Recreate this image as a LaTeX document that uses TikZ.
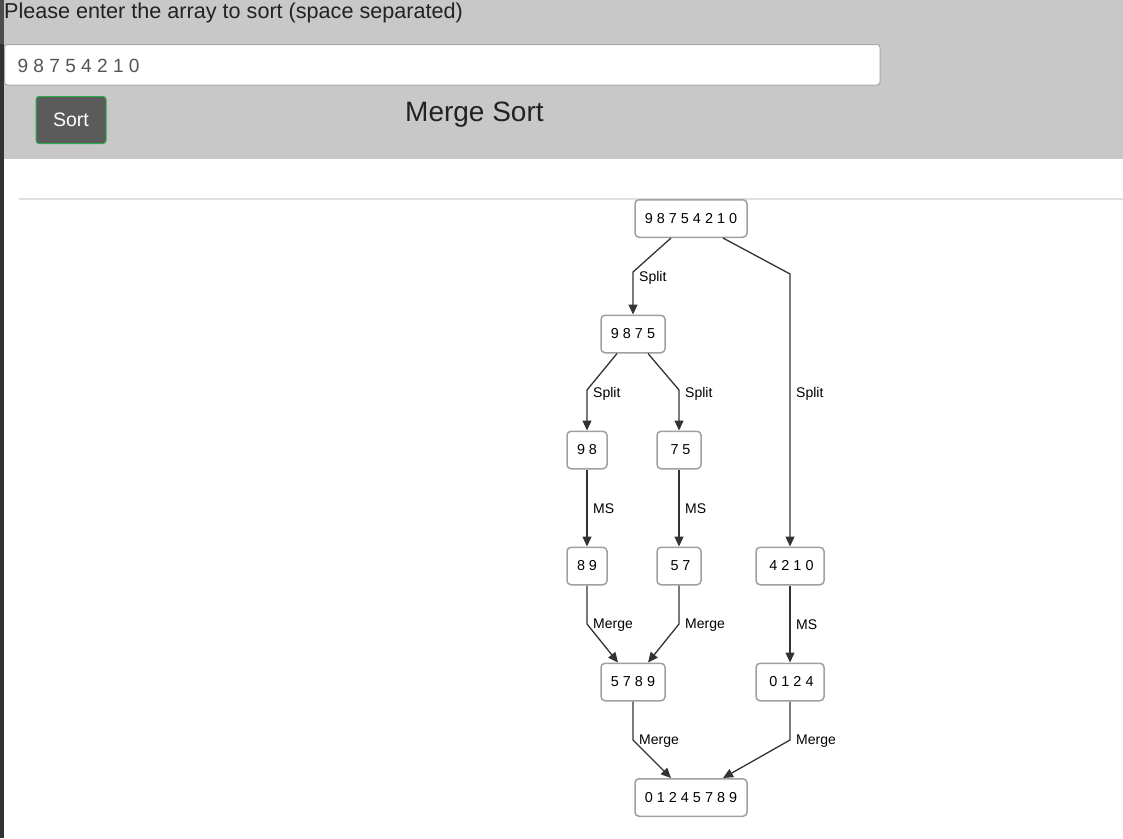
\documentclass[tikz,border=0pt]{standalone}
\usepackage{fontspec}
\setmainfont{Liberation Sans}
\usetikzlibrary{arrows.meta}
\definecolor{hdr}{HTML}{C8C8C8}
\definecolor{barA}{HTML}{4A4E53}
\definecolor{barB}{HTML}{2E3338}
\definecolor{txt}{HTML}{222222}
\definecolor{inptxt}{HTML}{555555}
\definecolor{inpborder}{HTML}{A9A9A9}
\definecolor{btnfill}{HTML}{5B5B5B}
\definecolor{btnborder}{HTML}{2EAA4F}
\definecolor{sepline}{HTML}{E0E0E0}
\definecolor{boxborder}{HTML}{A0A0A0}
\definecolor{edgec}{HTML}{333333}
\tikzset{
  box/.style={draw=boxborder, line width=1.5pt, rounded corners=4pt, fill=white,
    minimum height=37.5pt, inner sep=0pt, font=\fontsize{14.4}{16}\selectfont, text=black},
  edge/.style={draw=edgec, line width=1.3pt, -{Triangle[length=10pt,width=9pt]}},
  lbl/.style={anchor=west, inner sep=0pt, font=\fontsize{14}{16}\selectfont, text=black},
}
\begin{document}
\begin{tikzpicture}[x=1pt,y=-1pt]
\useasboundingbox (0,0) rectangle (1123,838);
\fill[white] (0,0) rectangle (1123,838);
% header
\fill[hdr] (4,0) rectangle (1123,158.5);
\fill[barA] (0,0) rectangle (4,44);
\fill[barB] (0,44) rectangle (4,838);
\draw[draw=inpborder, line width=1pt, fill=white, rounded corners=3pt] (4.5,44.5) rectangle (880,85);
\node[anchor=base west, inner sep=0pt, text=txt, font=\fontsize{21.6}{25}\selectfont] (prompt) at (4,18.3) {Please enter the array to sort (space separated)};
\node[anchor=base west, inner sep=0pt, text=inptxt, font=\fontsize{19.1}{22}\selectfont] (inp) at (17.3,72.3) {9 8 7 5 4 2 1 0};
\node[draw=btnborder, fill=btnfill, line width=1pt, rounded corners=3pt, minimum width=70pt, minimum height=47pt, inner sep=0pt, text=white, font=\fontsize{19.5}{22}\selectfont] (sortbtn) at (71,120) {Sort};
\node[anchor=base west, inner sep=0pt, text=txt, font=\fontsize{28}{32}\selectfont] (title) at (405,121.7) {Merge Sort};
\draw[sepline, line width=2pt] (19,198.5) -- (1123,198.5);
% graph nodes
\node[box, minimum width=112pt] (r) at (691,218.5) {9 8 7 5 4 2 1 0};
\node[box, minimum width=64pt] (a) at (633,334) {9 8 7 5};
\node[box, minimum width=40pt] (b) at (587,450) {9 8};
\node[box, minimum width=44pt] (c) at (679,450) {\hspace{3pt}7 5};
\node[box, minimum width=40pt] (d) at (587,566) {8 9};
\node[box, minimum width=44pt] (e) at (679,566) {\hspace{3pt}5 7};
\node[box, minimum width=68pt] (f) at (790,566) {\hspace{3pt}4 2 1 0};
\node[box, minimum width=64pt] (g) at (633,682) {5 7 8 9};
\node[box, minimum width=68pt] (h) at (790,682) {\hspace{3pt}0 1 2 4};
\node[box, minimum width=112pt] (k) at (691,797.5) {0 1 2 4 5 7 8 9};
% edges
\draw[edge] ([xshift=-20pt]r.south) -- (a.north |- 0,272) -- (a.north);
\draw[edge] ([xshift=32pt]r.south) -- (f.north |- 0,274) -- (f.north);
\draw[edge] ([xshift=-16pt]a.south) -- (b.north |- 0,390) -- (b.north);
\draw[edge] ([xshift=15pt]a.south) -- (c.north |- 0,390) -- (c.north);
\draw[edge] (b.south) -- (d.north);
\draw[edge] (c.south) -- (e.north);
\draw[edge] (f.south) -- (h.north);
\draw[edge] (d.south) -- (d.south |- 0,624) -- ([xshift=-15pt]g.north);
\draw[edge] (e.south) -- (e.south |- 0,624) -- ([xshift=15pt]g.north);
\draw[edge] (g.south) -- (g.south |- 0,740) -- ([xshift=-20pt]k.north);
\draw[edge] (h.south) -- (h.south |- 0,740) -- ([xshift=32pt]k.north);
% labels
\node[lbl] (l1) at (639,277.5) {Split};
\node[lbl] (l2) at (796,393.5) {Split};
\node[lbl] (l3) at (593,393.5) {Split};
\node[lbl] (l4) at (685,393.5) {Split};
\node[lbl] (l5) at (593,509) {MS};
\node[lbl] (l6) at (685,509) {MS};
\node[lbl] (l7) at (796,625) {MS};
\node[lbl] (l8) at (593,625.5) {Merge};
\node[lbl] (l9) at (685,625.5) {Merge};
\node[lbl] (l10) at (639,741.5) {Merge};
\node[lbl] (l11) at (796,741.5) {Merge};
\end{tikzpicture}
\end{document}
